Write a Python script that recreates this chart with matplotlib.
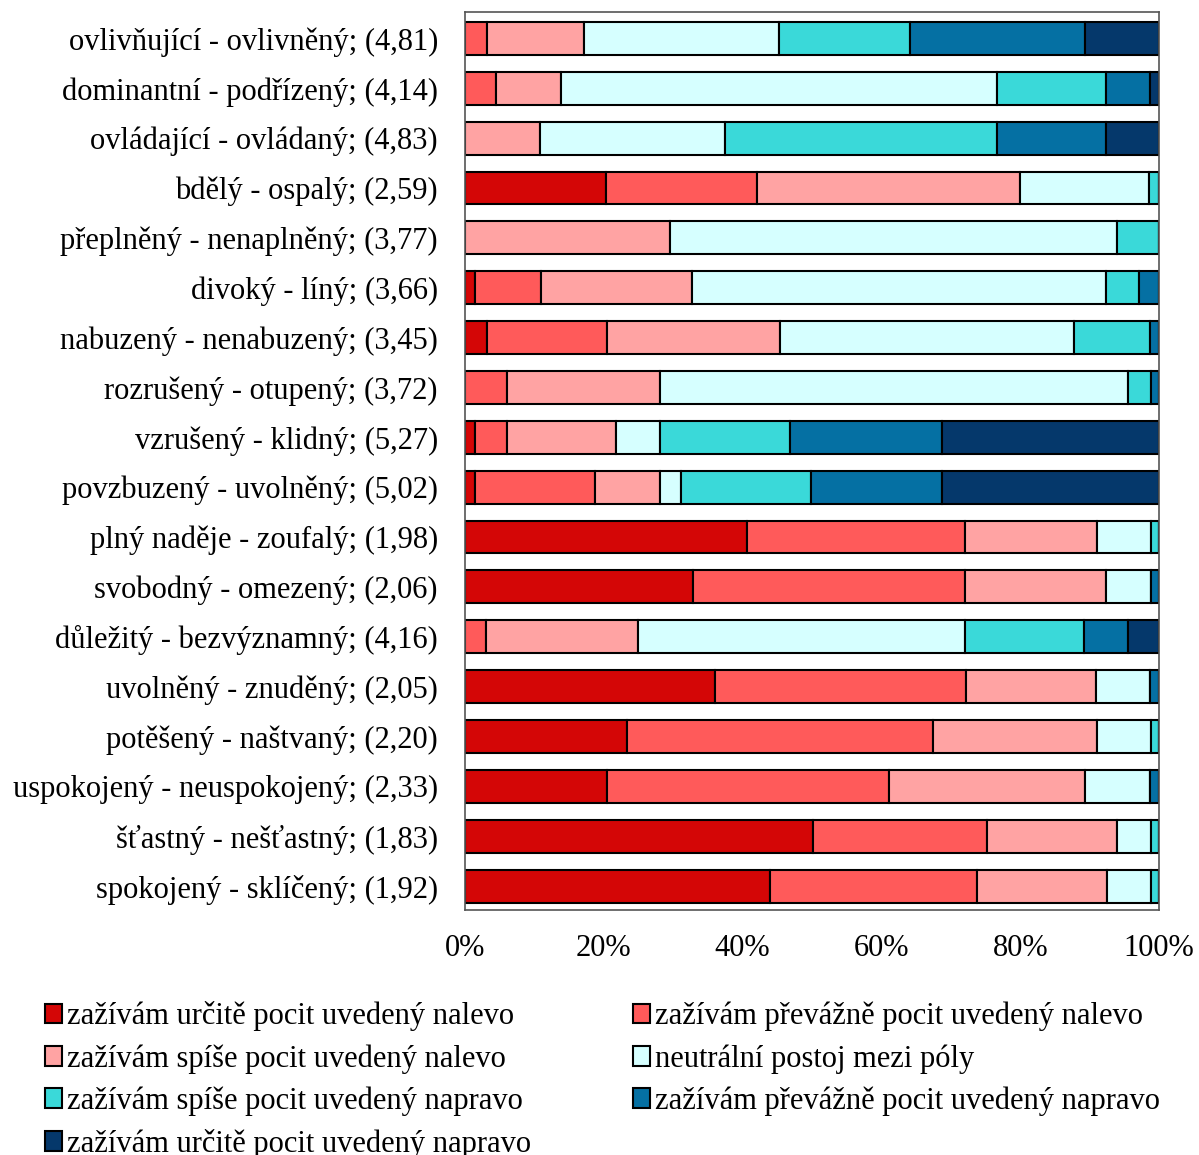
import matplotlib.pyplot as plt
import numpy as np

plt.rcParams['font.family'] = ['Liberation Serif', 'DejaVu Serif']

labels = [
    'ovlivňující - ovlivněný; (4,81)',
    'dominantní - podřízený; (4,14)',
    'ovládající - ovládaný; (4,83)',
    'bdělý - ospalý; (2,59)',
    'přeplněný - nenaplněný; (3,77)',
    'divoký - líný; (3,66)',
    'nabuzený - nenabuzený; (3,45)',
    'rozrušený - otupený; (3,72)',
    'vzrušený - klidný; (5,27)',
    'povzbuzený - uvolněný; (5,02)',
    'plný naděje - zoufalý; (1,98)',
    'svobodný - omezený; (2,06)',
    'důležitý - bezvýznamný; (4,16)',
    'uvolněný - znuděný; (2,05)',
    'potěšený - naštvaný; (2,20)',
    'uspokojený - neuspokojený; (2,33)',
    'šťastný - nešťastný; (1,83)',
    'spokojený - sklíčený; (1,92)',
]

# percent of answers per category, from left pole to right pole
left_certain = [0, 0, 0, 20.3, 0, 1.4, 3.1, 0, 1.4, 1.4, 40.7, 32.8, 0, 36.1, 23.4, 20.4, 50.1, 43.9]
left_mostly = [3.1, 4.4, 0, 21.8, 0, 9.5, 17.3, 6.1, 4.7, 17.3, 31.4, 39.3, 3.1, 36.1, 44.0, 40.7, 25.1, 29.9]
left_rather = [14.0, 9.5, 10.8, 37.8, 29.6, 21.8, 25.0, 22.0, 15.6, 9.4, 18.9, 20.3, 21.9, 18.8, 23.6, 28.3, 18.8, 18.7]
neutral = [28.2, 62.8, 26.7, 18.7, 64.3, 59.6, 42.4, 67.4, 6.4, 3.0, 7.8, 6.4, 47.1, 7.8, 7.8, 9.3, 4.8, 6.3]
right_rather = [18.8, 15.6, 39.1, 1.4, 6.1, 4.8, 10.9, 3.3, 18.7, 18.8, 1.2, 0, 17.2, 0, 1.2, 0, 1.2, 1.2]
right_mostly = [25.2, 6.4, 15.7, 0, 0, 2.9, 1.3, 1.2, 22.0, 18.9, 0, 1.2, 6.3, 1.3, 0, 1.3, 0, 0]
right_certain = [10.7, 1.3, 7.7, 0, 0, 0, 0, 0, 31.2, 31.2, 0, 0, 4.5, 0, 0, 0, 0, 0]

series_names = [
    'zažívám určitě pocit uvedený nalevo',
    'zažívám převážně pocit uvedený nalevo',
    'zažívám spíše pocit uvedený nalevo',
    'neutrální postoj mezi póly',
    'zažívám spíše pocit uvedený napravo',
    'zažívám převážně pocit uvedený napravo',
    'zažívám určitě pocit uvedený napravo',
]
colors = ['#D40606', '#FF5A5A', '#FFA3A3', '#D6FFFF', '#3AD9D9', '#0570A3', '#05386B']

data = np.array([left_certain, left_mostly, left_rather, neutral,
                 right_rather, right_mostly, right_certain])
data = data / data.sum(axis=0) * 100

fig = plt.figure(figsize=(11.99, 11.55), dpi=100)
ax = fig.add_axes([465 / 1199, 245 / 1155, 694 / 1199, 898 / 1155])

y = np.arange(len(labels))
left = np.zeros(len(labels))
bars = []
for vals, name, c in zip(data, series_names, colors):
    b = ax.barh(y, vals, left=left, height=0.66, color=c, edgecolor='black',
                linewidth=1.5, label=name)
    bars.append(b)
    left += vals

ax.set_xlim(0, 100)
ax.set_ylim(17.48, -0.53)
ax.set_yticks(y)
ax.set_yticklabels(labels, fontsize=22)
ax.set_xticks([0, 20, 40, 60, 80, 100])
ax.set_xticklabels(['0%', '20%', '40%', '60%', '80%', '100%'], fontsize=22)
ax.tick_params(axis='both', length=0)
ax.tick_params(axis='y', pad=19.5)
ax.tick_params(axis='x', pad=17)
for s in ax.spines.values():
    s.set_color('#555555')
    s.set_linewidth(1.2)

order = [0, 2, 4, 6, 1, 3, 5]
fig.legend([bars[i] for i in order], [series_names[i] for i in order],
           loc='upper left', bbox_to_anchor=(30 / 1199, 1 - 986 / 1155),
           ncol=2, frameon=False, fontsize=22, handlelength=0.55,
           handleheight=0.6, handletextpad=0.15, columnspacing=3.36,
           labelspacing=0.42, borderpad=0)

fig.savefig('out.png', dpi=100)
